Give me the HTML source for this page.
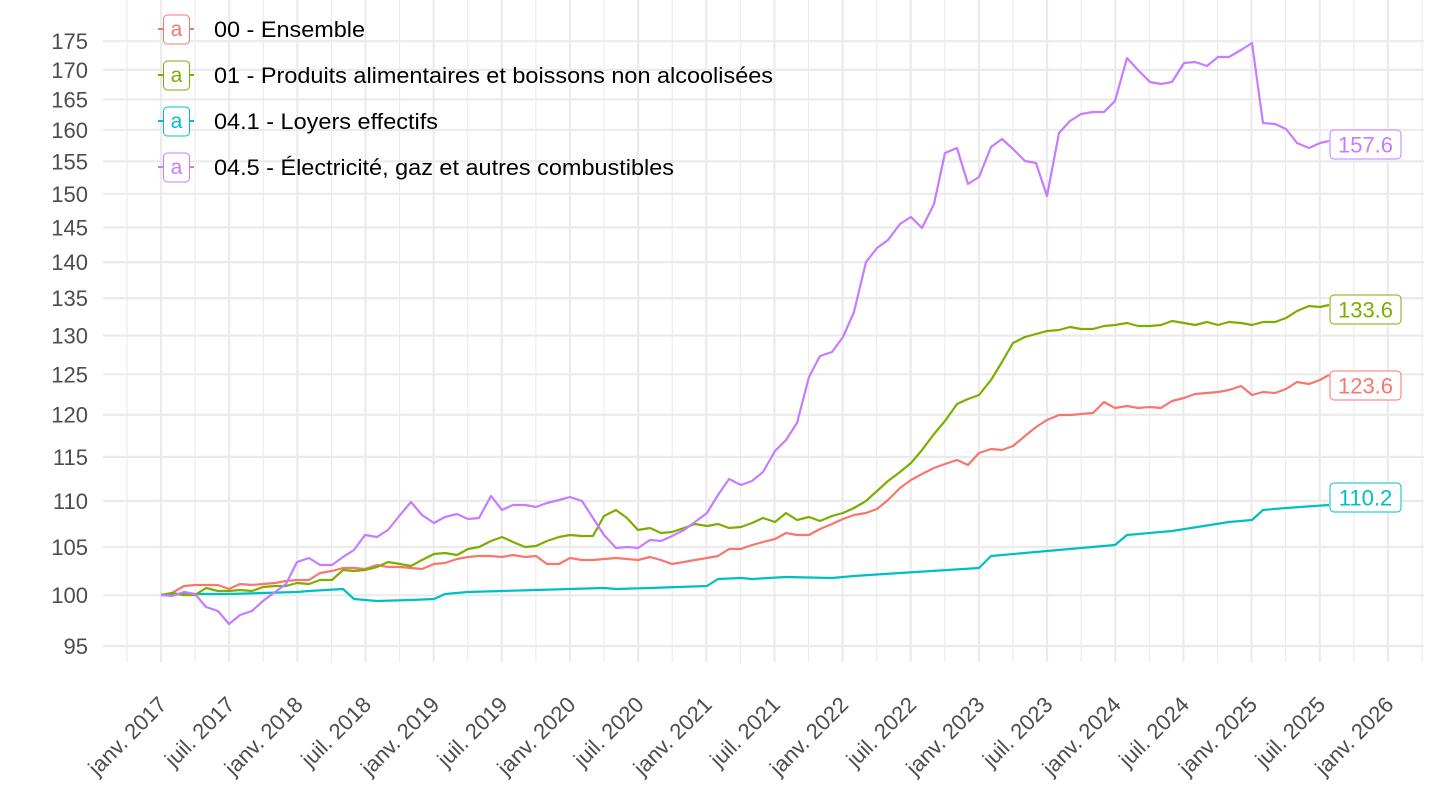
<!DOCTYPE html>
<html><head><meta charset="utf-8"><style>
html,body{margin:0;padding:0;background:#fff;}
svg{display:block;font-family:"Liberation Sans",sans-serif;}
</style></head><body>
<svg id="s" width="1440" height="810" viewBox="0 0 1440 810">
<g id="grid"></g>
<g fill="none" stroke-width="2.2" stroke-linejoin="round">
<polyline stroke="#00BFC4" points="161,595 184,594 229,594 297,592 309,591 343,589 354,599 377,601 411,600 434,599 445,594 468,592 502,591 536,590 570,589 604,588 616,589 650,588 707,586 718,579 741,578 752,579 786,577 832,578 854,576 900,573 979,568 991,556 1047,551 1115,545 1127,535 1172,531 1229,522 1252,520 1263,510 1286,508 1329,505"/>
<polyline stroke="#F8766D" points="161,595 172,593 184,586 195,585 206,585 218,585 229,589 240,584 252,585 263,584 275,583 286,581 297,580 309,580 320,573 332,571 343,568 354,568 365,569 377,565 388,567 400,567 411,568 422,569 434,564 445,563 457,559 468,557 479,556 491,556 502,557 513,555 525,557 536,556 547,564 559,564 570,558 582,560 593,560 604,559 616,558 627,559 638,560 650,557 661,560 672,564 684,562 695,560 707,558 718,556 729,549 741,549 752,545 763,542 775,539 786,533 797,535 809,535 820,529 832,524 843,519 854,515 866,513 877,509 888,500 900,488 911,480 922,474 934,468 945,464 957,460 968,465 979,453 991,449 1002,450 1013,446 1025,436 1036,427 1047,420 1059,415 1070,415 1081,414 1093,413 1104,402 1115,408 1127,406 1138,408 1150,407 1161,408 1172,401 1184,398 1195,394 1207,393 1218,392 1229,390 1241,386 1252,395 1263,392 1275,393 1286,389 1297,382 1309,384 1320,380 1329,375"/>
<polyline stroke="#7CAE00" points="161,595 172,593 184,595 195,595 206,588 218,591 229,591 240,590 252,591 263,587 275,586 286,586 297,583 309,584 320,580 332,580 343,570 354,571 365,570 377,567 388,562 400,564 411,566 422,560 434,554 445,553 457,555 468,549 479,547 491,541 502,537 513,542 525,547 536,546 547,541 559,537 570,535 582,536 593,536 604,516 616,510 627,518 638,530 650,528 661,533 672,532 684,528 695,524 707,526 718,524 729,528 741,527 752,523 763,518 775,522 786,513 797,520 809,517 820,521 832,516 843,513 854,508 866,501 877,491 888,481 900,472 911,463 922,450 934,434 945,421 957,404 968,399 979,395 991,380 1002,362 1013,343 1025,337 1036,334 1047,331 1059,330 1070,327 1081,329 1093,329 1104,326 1115,325 1127,323 1138,326 1150,326 1161,325 1172,321 1184,323 1195,325 1207,322 1218,325 1229,322 1241,323 1252,325 1263,322 1275,322 1286,318 1297,311 1309,306 1320,307 1329,305"/>
<polyline stroke="#C77CFF" points="161,595 172,596 184,592 195,594 206,607 218,611 229,624 240,615 252,611 263,601 275,592 286,584 297,562 309,558 320,565 332,565 343,557 354,550 365,535 377,537 388,530 400,515 411,502 422,515 434,523 445,517 457,514 468,519 479,518 491,496 502,510 513,505 525,505 536,507 547,503 559,500 570,497 582,501 593,518 604,535 616,548 627,547 638,548 650,540 661,541 672,536 684,530 695,522 707,513 718,495 729,479 741,485 752,481 763,472 775,451 786,440 797,423 809,377 820,356 832,352 843,337 854,312 866,262 877,248 888,240 900,224 911,217 922,228 934,204 945,153 957,148 968,184 979,177 991,147 1002,139 1013,149 1025,161 1036,163 1047,196 1059,133 1070,121 1081,114 1093,112 1104,112 1115,101 1127,58 1138,70 1150,82 1161,84 1172,82 1184,63 1195,62 1207,66 1218,57 1229,57 1241,50 1252,43 1263,123 1275,124 1286,129 1297,143 1309,148 1320,143 1329,141"/>
</g>
<g font-size="22" text-anchor="middle">
<rect x="1330" y="130" width="71" height="29" rx="4" fill="#fff" stroke="#C77CFF"/><text x="1365.5" y="152.5" fill="#C77CFF">157.6</text>
<rect x="1330" y="295" width="71" height="29" rx="4" fill="#fff" stroke="#7CAE00"/><text x="1365.5" y="317.5" fill="#7CAE00">133.6</text>
<rect x="1330" y="371" width="71" height="29" rx="4" fill="#fff" stroke="#F8766D"/><text x="1365.5" y="393.5" fill="#F8766D">123.6</text>
<rect x="1330" y="483" width="71" height="29" rx="4" fill="#fff" stroke="#00BFC4"/><text x="1365.5" y="505.5" fill="#00BFC4">110.2</text>
</g>
<g id="leg" font-size="22"></g>
<g id="ax"></g>
</svg>
<script>
var NS="http://www.w3.org/2000/svg";
function el(p,t,a,txt){var e=document.createElementNS(NS,t);for(var k in a)e.setAttribute(k,a[k]);if(txt!=null)e.textContent=txt;p.appendChild(e);return e;}
var g=document.getElementById('grid'),ax=document.getElementById('ax'),lg=document.getElementById('leg');
function Y(v){return 646-990*Math.log(v/95);}
var X0=161,M=11.36,top=10,bot=662,L=103,R=1424;
for(var v=92.5;v<=177.5;v+=5){var y=Y(v);if(y>top&&y<bot)el(g,'line',{x1:L,x2:R,y1:y,y2:y,stroke:'#ebebeb','stroke-width':1.1});}
for(var v=95;v<=175;v+=5){var y=Y(v);el(g,'line',{x1:L,x2:R,y1:y,y2:y,stroke:'#ebebeb','stroke-width':2.2});
el(ax,'text',{x:88,y:y+8,'text-anchor':'end','font-size':22,fill:'#4d4d4d'},String(v));}
for(var m=-3;m<=111;m+=6){var x=X0+m*M;if(x>=L-1&&x<=R+1)el(g,'line',{x1:x,x2:x,y1:top,y2:bot,stroke:'#ebebeb','stroke-width':1.1});}
for(var i=0;i<=18;i++){var x=X0+i*6*M;el(g,'line',{x1:x,x2:x,y1:top,y2:bot,stroke:'#ebebeb','stroke-width':2.2});
var yr=2017+Math.floor(i/2),lab=(i%2?'juil. ':'janv. ')+yr;
el(ax,'text',{x:0,y:0,'text-anchor':'end','font-size':22,fill:'#4d4d4d',transform:'translate('+(x+7)+',706) rotate(-45)'},lab);}
var items=[['#F8766D','00 - Ensemble',29,151],['#7CAE00','01 - Produits alimentaires et boissons non alcoolisées',75,559],['#00BFC4','04.1 - Loyers effectifs',121,224],['#C77CFF','04.5 - Électricité, gaz et autres combustibles',167,460]];
items.forEach(function(it){var c=it[0],y=it[2];
el(lg,'line',{x1:158,x2:194,y1:y,y2:y,stroke:c,'stroke-width':2});
el(lg,'rect',{x:163.5,y:y-14,width:26,height:29,rx:4,fill:'#fff',stroke:c});
el(lg,'text',{x:176.5,y:y+7,'text-anchor':'middle',fill:c,'font-size':21},'a');
el(lg,'text',{x:214,y:y+8,fill:'#000',textLength:it[3],lengthAdjust:'spacingAndGlyphs'},it[1]);});
</script>
</body></html>
